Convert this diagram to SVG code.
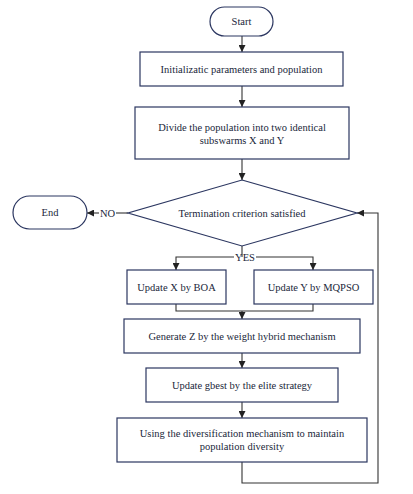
<svg xmlns="http://www.w3.org/2000/svg" width="413" height="494" viewBox="0 0 413 494">
<defs>
<marker id="ah" viewBox="0 0 10 10" refX="10" refY="5" markerWidth="7" markerHeight="7" markerUnits="userSpaceOnUse" orient="auto">
<path d="M0,0 L10,5 L0,10 z" fill="#222"/>
</marker>
<style>
.s{fill:#fff;stroke:#2b3660;stroke-width:1.2}
.t{font-family:"Liberation Serif","Times New Roman",serif;font-size:10.5px;fill:#1a1f3a;text-anchor:middle}
.c{fill:none;stroke:#333;stroke-width:1.1}
</style>
</defs>
<rect width="413" height="494" fill="#fff"/>
<g id="connectors">
<path class="c" d="M242,36 V52" marker-end="url(#ah)"/>
<path class="c" d="M242,86 V107" marker-end="url(#ah)"/>
<path class="c" d="M242,159 V180" marker-end="url(#ah)"/>
<path class="c" d="M128,213 H116"/>
<path class="c" d="M99,213 H87" marker-end="url(#ah)"/>
<path class="c" d="M242,246 V257"/>
<path class="c" d="M234,257 H176 V270" marker-end="url(#ah)"/>
<path class="c" d="M256,257 H313 V270" marker-end="url(#ah)"/>
<path class="c" d="M176,304 V311 H313 V304"/>
<path class="c" d="M242,311 V319" marker-end="url(#ah)"/>
<path class="c" d="M242,353 V368" marker-end="url(#ah)"/>
<path class="c" d="M242,402 V418" marker-end="url(#ah)"/>
<path class="c" d="M242,462 V483 H378 V213 H357" marker-end="url(#ah)"/>
<text class="t" x="107.5" y="216.5">NO</text>
<text class="t" x="245" y="260.5">YES</text>
</g>
<g id="start">
<rect class="s" x="210" y="7" width="63" height="29" rx="14.5"/>
<text class="t" x="241.5" y="25">Start</text>
</g>
<g id="init">
<rect class="s" x="140" y="52" width="203" height="34"/>
<text class="t" x="241.5" y="72.5">Initializatic parameters and population</text>
</g>
<g id="divide">
<rect class="s" x="135" y="107" width="214" height="52"/>
<text class="t" x="242" y="131">Divide the population into two identical</text>
<text class="t" x="242" y="144">subswarms X and Y</text>
</g>
<g id="termination">
<polygon class="s" points="242,180 357,213 242,246 128,213"/>
<text class="t" x="242" y="216.5">Termination criterion satisfied</text>
</g>
<g id="end">
<rect class="s" x="13" y="196" width="74" height="33" rx="16.5"/>
<text class="t" x="50" y="216">End</text>
</g>
<g id="updatex">
<rect class="s" x="127" y="270" width="99" height="34"/>
<text class="t" x="176.5" y="290.5">Update X by BOA</text>
</g>
<g id="updatey">
<rect class="s" x="254" y="270" width="119" height="34"/>
<text class="t" x="313.5" y="290.5">Update Y by MQPSO</text>
</g>
<g id="generatez">
<rect class="s" x="124" y="319" width="236" height="34"/>
<text class="t" x="242" y="339.5">Generate Z by the weight hybrid mechanism</text>
</g>
<g id="gbest">
<rect class="s" x="146" y="368" width="192" height="34"/>
<text class="t" x="242" y="388.5">Update gbest by the elite strategy</text>
</g>
<g id="diversify">
<rect class="s" x="117" y="418" width="250" height="44"/>
<text class="t" x="242" y="437">Using the diversification mechanism to maintain</text>
<text class="t" x="242" y="450">population diversity</text>
</g>
</svg>
